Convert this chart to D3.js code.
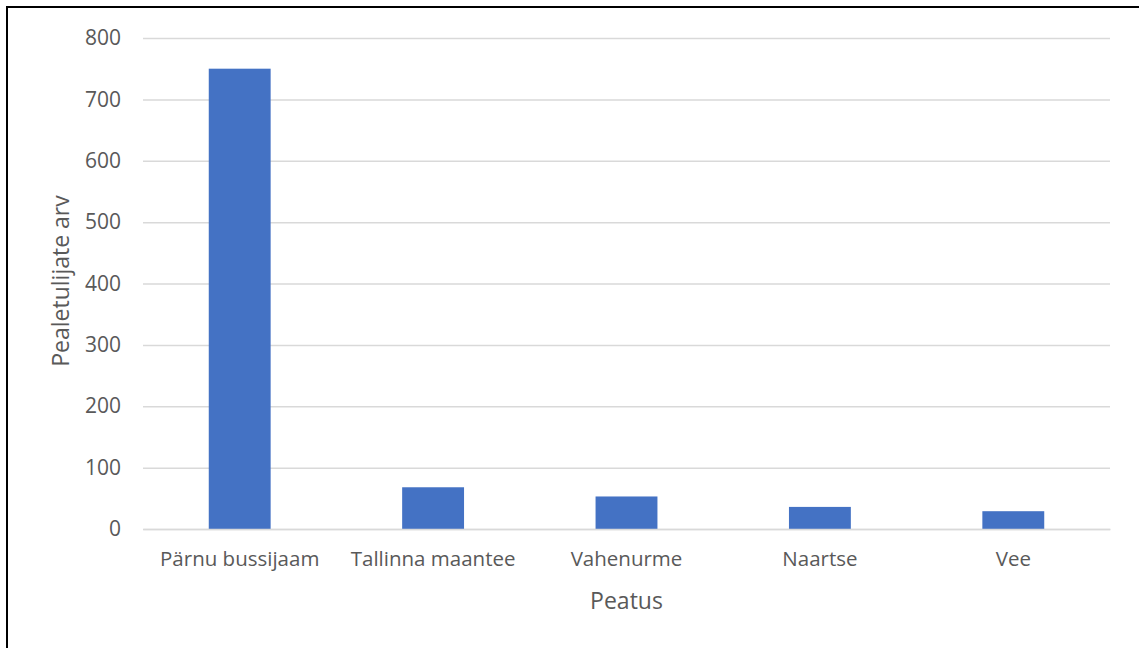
<!DOCTYPE html>
<html><head><meta charset="utf-8">
<script src="https://cdn.jsdelivr.net/npm/d3@7"></script>
<style>
html,body{margin:0;padding:0;background:#fff;}
svg{display:block;}
text{font-family:"Open Sans",sans-serif;fill:#595959;}
</style></head>
<body>
<svg id="chart" width="1139" height="648"></svg>
<script>
const categories = ["Pärnu bussijaam", "Tallinna maantee", "Vahenurme", "Naartse", "Vee"];
const values = [750, 68, 53, 36, 29];
const yTicks = [0, 100, 200, 300, 400, 500, 600, 700, 800];
const xTitle = "Peatus";
const yTitle = "Pealetulijate arv";

(function () {
const svg = d3.select("#chart");
svg.append("rect").attr("x", 7).attr("y", 7).attr("width", 1150).attr("height", 700)
  .attr("fill", "#fff").attr("stroke", "#000").attr("stroke-width", 2);

const mLeft = 143, mRight = 1110, mTop = 38, mBottom = 529;
const x = d3.scaleBand().domain(categories).range([mLeft, mRight]).paddingInner(0.68).paddingOuter(0.34);
const y = d3.scaleLinear().domain([0, 800]).range([mBottom, mTop]);

const yAxis = svg.append("g").attr("transform", `translate(${mLeft},0)`)
  .call(d3.axisLeft(y).tickValues(yTicks).tickSize(-(mRight - mLeft)).tickPadding(22));
yAxis.select(".domain").remove();
yAxis.selectAll("line").attr("stroke", "#d9d9d9").attr("stroke-width", 1.5);
yAxis.selectAll("text").style("font-size", "21px").style("font-family", '"Open Sans",sans-serif').attr("fill", "#595959");

svg.append("g").selectAll("rect").data(values).join("rect")
  .attr("x", (d, i) => x(categories[i]))
  .attr("width", x.bandwidth())
  .attr("y", d => y(d))
  .attr("height", d => y(0) - y(d))
  .attr("fill", "#4472c4");

const xAxis = svg.append("g").attr("transform", `translate(0,${mBottom})`)
  .call(d3.axisBottom(x).tickSize(0).tickPadding(22));
xAxis.select(".domain").attr("stroke", "#d9d9d9").attr("stroke-width", 1.5);
xAxis.selectAll("text").style("font-size", "20.5px").style("font-family", '"Open Sans",sans-serif').attr("fill", "#595959");

svg.append("text").attr("x", (mLeft + mRight) / 2).attr("y", 609).attr("text-anchor", "middle")
  .style("font-size", "23px").text(xTitle);
svg.append("text").attr("transform", "translate(69,281) rotate(-90)").attr("text-anchor", "middle")
  .style("font-size", "23px").text(yTitle);
})();
</script>
</body></html>
